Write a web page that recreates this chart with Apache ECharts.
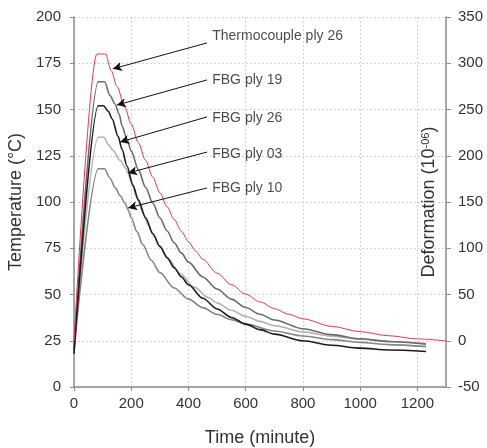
<!DOCTYPE html>
<html>
<head>
<meta charset="utf-8">
<script src="https://cdn.jsdelivr.net/npm/echarts@6.0.0/dist/echarts.min.js"></script>
<style>
  html, body { margin: 0; padding: 0; background: #fff; }
  #chart { width: 487px; height: 448px; }
</style>
</head>
<body>
<div id="chart"></div>
<script>
// thermocouple ply 26 (red)
const tcTime = [0, 80, 110, 130, 150, 178, 200, 225, 250, 275, 300, 325, 350, 375, 400, 425, 450, 500, 550, 600, 650, 700, 750, 800, 900, 1000, 1100, 1200, 1300];
const tcTemp = [25, 180, 180, 171, 162.5, 151, 142, 132, 122.5, 113.5, 105, 97.5, 90.5, 84.2, 78.5, 73.5, 69, 61.5, 55.3, 50.2, 46, 42.4, 39.3, 36.8, 32.8, 29.9, 27.7, 26, 24.9];

// FBG ply 19
const p19Time = [0, 85, 107, 126, 143, 158, 168, 185, 200, 225, 250, 275, 300, 325, 350, 375, 400, 450, 500, 550, 600, 650, 700, 800, 900, 1000, 1100, 1230];
const p19Temp = [20, 165, 165, 157.5, 153, 147.5, 141, 134, 127.5, 117.5, 108, 99.5, 91.5, 84.5, 78, 72.5, 67.5, 59.5, 53, 47.5, 43, 39.3, 36.2, 31.5, 28.3, 26.1, 24.6, 23.2];

// FBG ply 26
const p26Time = [0, 85, 103, 120, 133, 154, 168, 185, 206, 225, 250, 275, 300, 325, 350, 375, 400, 450, 500, 550, 600, 650, 700, 800, 900, 1000, 1100, 1230];
const p26Temp = [18, 152, 152, 149, 145, 135.5, 128.5, 119.5, 109, 101, 91.5, 83, 76, 70, 64.5, 59.6, 55.3, 48, 42.2, 37.6, 34, 31, 28.6, 25, 22.6, 21, 20, 19.2];

// FBG ply 03
const p03Time = [0, 85, 105, 120, 136, 161, 180, 189, 200, 220, 240, 260, 280, 300, 330, 370, 420, 470, 500, 550, 600, 650, 700, 800, 900, 1000, 1100, 1230];
const p03Temp = [22, 135, 135, 131, 128, 122.5, 118.5, 115.5, 111, 102.5, 94.5, 87.5, 81.5, 76, 69, 61.5, 54, 48.3, 45.5, 41.5, 38.2, 35.5, 33.2, 29.8, 27.5, 25.8, 24.6, 23.5];

// FBG ply 10
const p10Time = [0, 85, 107, 125, 145, 161, 178, 190, 200, 220, 240, 270, 300, 350, 400, 450, 500, 550, 600, 700, 800, 900, 1000, 1100, 1230];
const p10Temp = [20, 118, 118, 113, 107.5, 103.5, 99.5, 95.5, 91.5, 84, 77, 68.5, 61.8, 53.5, 47.5, 42.9, 39.3, 36.4, 34, 30.3, 27.6, 25.6, 24.1, 22.9, 21.8];

// annotations (data coordinates: minute, °C)
const annoText = ['Thermocouple ply 26', 'FBG ply 19', 'FBG ply 26', 'FBG ply 03', 'FBG ply 10'];
const annoFrom = [[465, 186], [465, 166], [465, 146], [465, 127], [465, 107.6]];
const annoTo = [[136, 172], [150, 152.4], [161, 132.4], [189, 115.7], [189, 96.8]];
const annoLabelAt = [[483, 189.7], [483, 166], [483, 145.4], [483, 126], [483, 107.6]];

const xTicks = [0, 200, 400, 600, 800, 1000, 1200];

const pairs = (ts, vs) => ts.map((t, i) => [t, vs[i]]);

const chart = echarts.init(document.getElementById('chart'));

const axisGrey = '#8c8c8c';
const font = 'Liberation Sans, Arial, sans-serif';

function curve(name, ts, vs, color, width) {
  return {
    name: name,
    type: 'line',
    data: pairs(ts, vs),
    showSymbol: false,
    smooth: 0.3,
    smoothMonotone: 'x',
    lineStyle: { color: color, width: width },
    z: 3,
    animation: false
  };
}

chart.setOption({
  backgroundColor: '#fff',
  animation: false,
  grid: { left: 74, right: 41, top: 17, bottom: 61, outerBoundsMode: 'none' },
  xAxis: {
    type: 'value',
    min: 0,
    max: 1300,
    interval: 200,
    name: 'Time (minute)',
    nameLocation: 'middle',
    nameGap: 42,
    nameTextStyle: { fontSize: 18, color: '#333', fontFamily: font },
    axisLine: { show: true, lineStyle: { color: axisGrey, width: 1.5 } },
    axisTick: { show: true, length: 4, lineStyle: { color: axisGrey } },
    axisLabel: {
      fontSize: 15, color: '#333', fontFamily: font, margin: 9,
      showMaxLabel: false,
      formatter: v => (xTicks.indexOf(v) >= 0 ? String(v) : '')
    },
    splitLine: { show: true, lineStyle: { color: '#d6d6d6', type: [2, 2], width: 1 } }
  },
  yAxis: [
    {
      type: 'value',
      min: 0,
      max: 200,
      interval: 25,
      name: 'Temperature (°C)',
      nameLocation: 'middle',
      nameGap: 45,
      nameTextStyle: { fontSize: 18, color: '#333', fontFamily: font },
      axisLine: { show: true, lineStyle: { color: axisGrey, width: 1.5 } },
      axisTick: { show: true, length: 4, lineStyle: { color: axisGrey } },
      axisLabel: { fontSize: 15, color: '#333', fontFamily: font, margin: 13 },
      splitLine: { show: true, lineStyle: { color: '#d6d6d6', type: [2, 2], width: 1 } }
    },
    {
      type: 'value',
      position: 'right',
      min: -50,
      max: 350,
      interval: 50,
      name: 'Deformation (10{sup|-06})',
      nameLocation: 'middle',
      nameGap: -26,
      nameMoveOverlap: false,
      nameRotate: 90,
      nameTextStyle: {
        fontSize: 18, color: '#333', fontFamily: font,
        rich: { sup: { fontSize: 11, verticalAlign: 'top', padding: [0, 0, 8, 0], color: '#333', fontFamily: font } }
      },
      axisLine: { show: true, lineStyle: { color: axisGrey, width: 1.5 } },
      axisTick: { show: true, length: 5, lineStyle: { color: axisGrey } },
      axisLabel: { fontSize: 15, color: '#333', fontFamily: font, margin: 12 },
      splitLine: { show: false }
    }
  ],
  series: [
    curve('FBG ply 03', p03Time, p03Temp, '#b4b4b4', 1.6),
    curve('FBG ply 10', p10Time, p10Temp, '#858585', 1.6),
    curve('FBG ply 19', p19Time, p19Temp, '#6a6a6a', 1.6),
    curve('FBG ply 26', p26Time, p26Temp, '#1c1c1c', 1.6),
    curve('Thermocouple ply 26', tcTime, tcTemp, '#e8364e', 1),
    {
      name: 'annotations',
      type: 'scatter',
      data: annoLabelAt.map((p, i) => ({ value: p, name: annoText[i] })),
      symbolSize: 0,
      label: {
        show: true,
        position: 'right',
        distance: 0,
        formatter: p => p.name,
        fontSize: 14,
        color: '#1a1a1a',
        fontFamily: font
      },
      markLine: {
        silent: true,
        symbol: ['none', 'arrow'],
        symbolSize: [7, 9],
        label: { show: false },
        lineStyle: { color: '#111', width: 1, type: 'solid' },
        data: annoFrom.map((f, i) => [{ coord: f }, { coord: annoTo[i] }])
      },
      z: 5,
      animation: false
    }
  ]
});

window.addEventListener('resize', () => chart.resize());
</script>
</body>
</html>
